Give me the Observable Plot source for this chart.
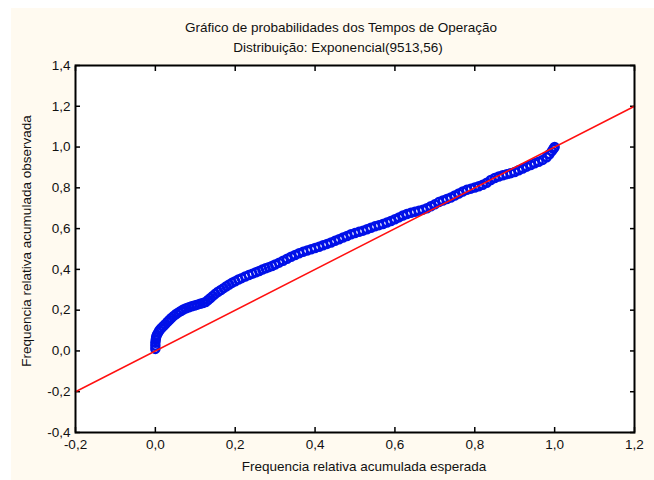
<!DOCTYPE html>
<html><head><meta charset="utf-8">
<script src="https://cdn.jsdelivr.net/npm/d3@7"></script>
<script src="https://cdn.jsdelivr.net/npm/@observablehq/plot@0.6"></script>
<style>
body{margin:0;background:#fff;font-family:"Liberation Sans",Arial,sans-serif;width:654px;height:480px;position:relative;overflow:hidden;}
#bg{position:absolute;left:11px;top:8px;width:643px;height:472px;background:#fffaf0;}
.t{position:absolute;font-size:13.5px;line-height:16px;color:#111;white-space:nowrap;transform:translateX(-50%);}
#chart{position:absolute;left:0;top:0;}
#ylab{position:absolute;left:27px;top:241px;font-size:13.5px;line-height:16px;color:#111;white-space:nowrap;transform:translate(-50%,-50%) rotate(-90deg);}
</style></head><body>
<div id="bg"></div>
<div class="t" style="left:341px;top:20px">Gráfico de probabilidades dos Tempos de Operação</div>
<div class="t" style="left:338px;top:40px">Distribuição: Exponencial(9513,56)</div>
<div id="chart"></div>
<div class="t" style="left:364px;top:459px">Frequencia relativa acumulada esperada</div>
<div id="ylab">Frequencia relativa acumulada observada</div>
<script>
const expected = [0.000,0.000,0.000,0.001,0.002,0.004,0.007,0.010,0.014,0.019,0.024,0.030,0.035,0.040,0.046,0.052,0.058,0.064,0.070,0.077,0.084,0.091,0.098,0.105,0.112,0.119,0.126,0.132,0.138,0.144,0.150,0.157,0.164,0.171,0.178,0.185,0.192,0.200,0.208,0.216,0.225,0.234,0.243,0.252,0.260,0.268,0.276,0.284,0.292,0.300,0.310,0.320,0.330,0.340,0.350,0.360,0.370,0.380,0.390,0.400,0.410,0.420,0.430,0.440,0.450,0.460,0.470,0.480,0.490,0.500,0.510,0.520,0.530,0.540,0.550,0.560,0.570,0.580,0.590,0.600,0.610,0.620,0.630,0.640,0.650,0.660,0.670,0.680,0.690,0.700,0.710,0.720,0.730,0.740,0.750,0.760,0.770,0.780,0.790,0.800,0.810,0.820,0.830,0.840,0.850,0.860,0.870,0.880,0.890,0.900,0.910,0.920,0.930,0.940,0.950,0.960,0.970,0.980,0.987,0.993,0.997,1.000];
const observed = [0.010,0.025,0.040,0.055,0.068,0.080,0.090,0.100,0.110,0.120,0.130,0.142,0.152,0.162,0.172,0.181,0.189,0.196,0.203,0.209,0.214,0.219,0.223,0.227,0.231,0.235,0.240,0.250,0.260,0.270,0.280,0.290,0.299,0.308,0.317,0.326,0.334,0.342,0.350,0.357,0.365,0.372,0.379,0.386,0.392,0.399,0.405,0.411,0.417,0.424,0.433,0.442,0.452,0.462,0.471,0.479,0.486,0.493,0.499,0.505,0.511,0.518,0.525,0.532,0.540,0.548,0.556,0.564,0.572,0.578,0.584,0.590,0.597,0.604,0.611,0.617,0.623,0.630,0.637,0.646,0.655,0.664,0.672,0.678,0.683,0.688,0.693,0.700,0.710,0.719,0.730,0.738,0.745,0.753,0.762,0.772,0.782,0.790,0.796,0.802,0.808,0.815,0.825,0.838,0.848,0.856,0.862,0.867,0.872,0.878,0.886,0.895,0.904,0.912,0.920,0.928,0.937,0.950,0.965,0.980,0.992,1.000];
const refLineX = [-0.2, 1.2];
const refLineY = [-0.2, 1.2];
const xTicks = [-0.2, 0.0, 0.2, 0.4, 0.6, 0.8, 1.0, 1.2];
const yTicks = [-0.4, -0.2, 0.0, 0.2, 0.4, 0.6, 0.8, 1.0, 1.2, 1.4];

const pts = expected.map((x, i) => ({x, y: observed[i]}));
const ref = refLineX.map((x, i) => ({x, y: refLineY[i]}));
const fmt = d => d.toFixed(1).replace(".", ",");

const chart = Plot.plot({
  width: 654, height: 480,
  marginLeft: 75, marginTop: 65, marginRight: 20, marginBottom: 48,
  style: {background: "transparent", fontFamily: "'Liberation Sans', Arial, sans-serif", fontSize: "13.5px", color: "#111"},
  x: {domain: [-0.2, 1.2]},
  y: {domain: [-0.4, 1.4]},
  marks: [
    Plot.frame({fill: "white", stroke: null}),
    Plot.axisX(xTicks, {anchor: "bottom", tickSize: -5, tickPadding: 12, tickFormat: fmt, label: null, stroke: "#000", fill: "#111", strokeWidth: 1.5}),
    Plot.axisX(xTicks, {anchor: "top", tickSize: -5, tickFormat: () => "", label: null, stroke: "#000", strokeWidth: 1.5}),
    Plot.axisY(yTicks, {anchor: "left", tickSize: -5, tickPadding: 10, tickFormat: fmt, label: null, stroke: "#000", fill: "#111", strokeWidth: 1.5}),
    Plot.axisY(yTicks, {anchor: "right", tickSize: -5, tickFormat: () => "", label: null, stroke: "#000", strokeWidth: 1.5}),
    Plot.dot(pts, {x: "x", y: "y", r: 4, stroke: "#0010e8", strokeWidth: 2.5, fill: "none"}),
    Plot.line(ref, {x: "x", y: "y", stroke: "#ff1010", strokeWidth: 1.5}),
    Plot.frame({stroke: "#000", strokeWidth: 2})
  ]
});
document.getElementById("chart").appendChild(chart);
</script>
</body></html>
